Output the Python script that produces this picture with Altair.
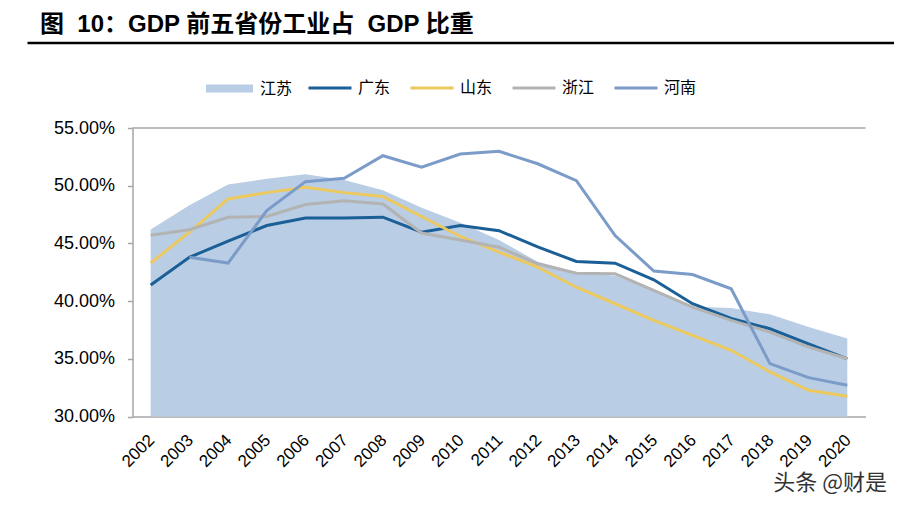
import altair as alt
import pandas as pd

years = ["2002", "2003", "2004", "2005", "2006", "2007", "2008", "2009", "2010",
         "2011", "2012", "2013", "2014", "2015", "2016", "2017", "2018", "2019", "2020"]

jiangsu = [46.2, 48.3, 50.1, 50.6, 51.0, 50.5, 49.6, 48.1, 46.8, 45.3,
           43.4, 42.5, 42.2, 40.9, 39.5, 39.4, 38.85, 37.75, 36.75]
guangdong = [41.4, 43.8, 45.2, 46.55, 47.2, 47.2, 47.27, 45.97, 46.55, 46.1,
             44.7, 43.43, 43.29, 41.85, 39.77, 38.5, 37.6, 36.3, 35.0]
shandong = [43.3, 45.97, 48.85, 49.4, 49.86, 49.4, 49.06, 47.33, 45.6, 44.24,
            42.95, 41.2, 39.77, 38.33, 37.03, 35.74, 33.86, 32.27, 31.75]
zhejiang = [45.7, 46.18, 47.27, 47.33, 48.37, 48.7, 48.42, 45.9, 45.3, 44.67,
            43.23, 42.42, 42.37, 40.93, 39.48, 38.33, 37.32, 36.02, 35.0]
henan = [None, 43.8, 43.3, 47.85, 50.35, 50.64, 52.6, 51.6, 52.75, 52.98,
         51.9, 50.44, 45.68, 42.6, 42.3, 41.07, 34.58, 33.37, 32.7]

line_names = ["广东", "山东", "浙江", "河南"]
line_series = [guangdong, shandong, zhejiang, henan]
line_colors = ["#1B5F97", "#EBC95F", "#B3B3B3", "#7B9BC8"]
area_color = "#B9CDE5"

y_ticks = [30, 35, 40, 45, 50, 55]
title_text = "图\u00a0\u00a010：GDP 前五省份工业占\u00a0\u00a0GDP 比重"
watermark_text = "头条 @财是"

df_area = pd.DataFrame({"year": years, "value": jiangsu, "prov": "江苏"})
rows = []
for name, series in zip(line_names, line_series):
    for yr, v in zip(years, series):
        if v is not None:
            rows.append({"year": yr, "value": v, "prov": name})
df_lines = pd.DataFrame(rows)

axis_gray = "#A6A6A6"
latin = "Liberation Sans"
cjk = "Noto Sans CJK SC"

x_enc = alt.X("year:O", sort=years,
              scale=alt.Scale(type="point", padding=0.47),
              axis=alt.Axis(title=None, labelAngle=-45, ticks=False,
                            domainColor=axis_gray, domainWidth=1.5,
                            labelFont=latin, labelFontSize=17, labelColor="black",
                            labelPadding=15, labelOffset=-5, labelOverlap=False))
y_enc = alt.Y("value:Q",
              scale=alt.Scale(domain=[30, 55], zero=False, nice=False),
              axis=alt.Axis(title=None, values=y_ticks, grid=False,
                            labelExpr="format(datum.value, '.2f') + '%'",
                            domainColor=axis_gray, domainWidth=1.5,
                            tickColor=axis_gray, tickSize=5, tickWidth=1.5,
                            labelFont=latin, labelFontSize=18, labelColor="black",
                            labelPadding=13))

area = alt.Chart(df_area).mark_area(opacity=1).encode(
    x=x_enc, y=y_enc, y2=alt.datum(30),
    fill=alt.Fill("prov:N",
                  scale=alt.Scale(domain=["江苏"], range=[area_color]),
                  legend=alt.Legend(title=None, orient="none", legendX=73.5, legendY=-63,
                                    direction="horizontal",
                                    symbolType="M-1,-0.17L1,-0.17L1,0.17L-1,0.17Z",
                                    symbolSize=2209, symbolStrokeWidth=0,
                                    labelFont=cjk, labelFontSize=16, labelColor="black",
                                    labelFontWeight="normal", labelOffset=7))
)

top_line = alt.Chart(pd.DataFrame({"value": [55]})).mark_rule(
    color=axis_gray, strokeWidth=1.5).encode(y="value:Q")

color_enc = alt.Color("prov:N",
                      scale=alt.Scale(domain=line_names, range=line_colors),
                      legend=alt.Legend(title=None, orient="none", legendX=174.5, legendY=-63,
                                        direction="horizontal", symbolType="stroke",
                                        symbolSize=1849, symbolStrokeWidth=3,
                                        labelFont=cjk, labelFontSize=16, labelColor="black",
                                        labelFontWeight="normal",
                                        labelOffset=5, columnPadding=13))

lines = []
for name in line_names:
    lines.append(
        alt.Chart(df_lines).transform_filter(alt.datum.prov == name)
        .mark_line(strokeWidth=3).encode(x=x_enc, y=y_enc, color=color_enc)
    )

title = alt.Chart(pd.DataFrame({"t": [title_text]})).mark_text(
    align="left", baseline="alphabetic", fontSize=24, fontWeight="bold",
    font=latin + ", " + cjk, color="black").encode(
    x=alt.value(-92.5), y=alt.value(-96), text="t:N")

underline = alt.Chart(pd.DataFrame({"t": [1]})).mark_rule(
    color="black", strokeWidth=2.5).encode(
    x=alt.value(-105), x2=alt.value(770), y=alt.value(-85))

watermark = alt.Chart(pd.DataFrame({"t": [watermark_text]})).mark_text(
    align="right", baseline="alphabetic", fontSize=22, font=cjk, color="#333333").encode(
    x=alt.value(754.5), y=alt.value(362), text="t:N")

chart = alt.layer(area, top_line, *lines, title, underline, watermark).properties(
    width=733, height=288.5,
    padding={"left": 124.5, "top": 120, "right": 28.5, "bottom": 85.5},
    autosize=alt.AutoSizeParams(type="none"),
).configure_view(stroke=None)

chart.save("out.html", embed_options={"renderer": "svg", "actions": False})
